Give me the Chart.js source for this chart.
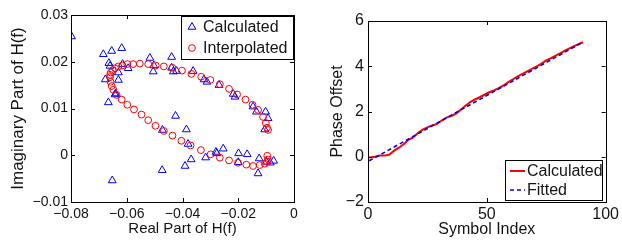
<!DOCTYPE html>
<html>
<head>
<meta charset="utf-8">
<script src="https://cdn.jsdelivr.net/npm/chart.js@4.4.0/dist/chart.umd.min.js"></script>
<style>
    html, body { margin: 0; padding: 0; background: #fff; }
    #wrap { position: relative; width: 622px; height: 241px; overflow: hidden; }
    .panel { position: absolute; top: 0; }
    #left { left: 0; }
    #right { left: 310px; }
</style>
</head>
<body>
<div id="wrap">
    <div class="panel" id="left"><canvas id="hChart" width="310" height="241"></canvas></div>
    <div class="panel" id="right"><canvas id="phaseChart" width="312" height="241"></canvas></div>
</div>
<script>
// ---- DATA: channel response H(f) ----
const calcRe = [-0.0798, -0.0684, -0.0654, -0.0618, -0.0664, -0.0660, -0.0677, -0.0630, -0.0630, -0.0640,
    -0.0642, -0.0666, -0.0652, -0.0615, -0.0595, -0.0517, -0.0503, -0.0505, -0.0439, -0.0439,
    -0.0433, -0.0421, -0.0362, -0.0323, -0.0312, -0.0269, -0.0218, -0.0212, -0.0147, -0.0135,
    -0.0102, -0.0093, -0.0105, -0.0425, -0.0472, -0.0386, -0.0380, -0.0369, -0.0391, -0.0473,
    -0.0317, -0.0280, -0.0254, -0.0199, -0.0168, -0.0125, -0.0129, -0.0099, -0.0085, -0.0073,
    -0.0200, -0.0277];
const calcIm = [0.0254, 0.0216, 0.0223, 0.0229, 0.0197, 0.0191, 0.0162, 0.0161, 0.0177, 0.0132,
    0.0130, 0.0113, -0.0054, 0.0195, 0.0186, 0.0208, 0.0192, 0.0179, 0.0210, 0.0187,
    0.0179, 0.0180, 0.0180, 0.0162, 0.0157, 0.0150, 0.0131, 0.0125, 0.0104, 0.0093,
    0.0093, 0.0079, 0.0055, 0.0084, 0.0054, 0.0055, 0.0024, -0.0009, -0.0023, -0.0032,
    -0.0005, 0.0007, 0.0014, 0.0004, 0.0002, -0.0007, -0.0039, -0.0014, -0.0016, -0.0012,
    -0.0015, 0.0004];

const interpRe = [-0.0660, -0.0657, -0.0651, -0.0642, -0.0630, -0.0616, -0.0598, -0.0577, -0.0553, -0.0523,
    -0.0496, -0.0467, -0.0436, -0.0402, -0.0368, -0.0333, -0.0300, -0.0266, -0.0233, -0.0204,
    -0.0174, -0.0149, -0.0129, -0.0111, -0.0101, -0.0097, -0.0093,
    -0.0660, -0.0658, -0.0654, -0.0648, -0.0636, -0.0618, -0.0598, -0.0574, -0.0547, -0.0523,
    -0.0497, -0.0467, -0.0436, -0.0404, -0.0371, -0.0334, -0.0299, -0.0266, -0.0233, -0.0201,
    -0.0171, -0.0147, -0.0123, -0.0105, -0.0097, -0.0093, -0.0096];
const interpIm = [0.0172, 0.0177, 0.0182, 0.0186, 0.0190, 0.0192, 0.0195, 0.0195, 0.0196, 0.0195,
    0.0192, 0.0190, 0.0187, 0.0181, 0.0174, 0.0168, 0.0161, 0.0152, 0.0142, 0.0130,
    0.0119, 0.0108, 0.0097, 0.0082, 0.0069, 0.0059, 0.0054,
    0.0167, 0.0157, 0.0148, 0.0140, 0.0129, 0.0119, 0.0108, 0.0098, 0.0087, 0.0075,
    0.0063, 0.0052, 0.0042, 0.0031, 0.0021, 0.0011, 0.0002, -0.0005, -0.0011, -0.0016,
    -0.0020, -0.0023, -0.0021, -0.0018, -0.0014, -0.0009, -0.0001];

// ---- DATA: phase offset ----
const symbolIdx = [0.5, 3, 5, 7, 9, 11, 13, 15, 17, 19, 21, 23, 25, 27, 29, 31, 33, 35, 37, 39,
    41, 43, 45, 47, 49, 51, 53, 55, 57, 59, 61, 63, 65, 67, 69, 71, 73, 75, 77, 79,
    81, 83, 85, 87, 89, 90.5];
const phaseCalc = [-0.03, 0.0, 0.05, 0.05, 0.10, 0.27, 0.40, 0.55, 0.75, 0.85, 1.05, 1.20, 1.30, 1.38, 1.45,
    1.60, 1.73, 1.80, 1.90, 2.08, 2.25, 2.42, 2.53, 2.63, 2.74, 2.85, 2.93, 3.03, 3.15, 3.30,
    3.42, 3.55, 3.66, 3.77, 3.88, 4.00, 4.12, 4.26, 4.36, 4.47, 4.58, 4.70, 4.80, 4.90, 5.00, 5.06];
const fitIdx = [0.5, 90.5];
const phaseFit = [-0.18, 5.07];

const FONT = "'Liberation Sans', Arial, Helvetica, sans-serif";
const TEXT = '#141414';

const toPoints = (xs, ys) => xs.map((x, i) => ({ x: x, y: ys[i] }));

function fmt(decimals) {
    return function (value) {
        if (Math.abs(value) < 1e-9) return '0';
        return value.toFixed(decimals).replace('-', '\u2212');
    };
}

// box round the axes with inward tick marks on all four sides
const framePlugin = {
    id: 'frame',
    afterDatasetsDraw(chart) {
        const { ctx, chartArea: a, scales } = chart;
        const len = 4;
        ctx.save();
        ctx.strokeStyle = '#000';
        ctx.lineWidth = 1;
        ctx.beginPath();
        scales.x.ticks.forEach(t => {
            const px = Math.round(scales.x.getPixelForValue(t.value)) + 0.5;
            ctx.moveTo(px, a.bottom); ctx.lineTo(px, a.bottom - len);
            ctx.moveTo(px, a.top); ctx.lineTo(px, a.top + len);
        });
        scales.y.ticks.forEach(t => {
            const py = Math.round(scales.y.getPixelForValue(t.value)) + 0.5;
            ctx.moveTo(a.left, py); ctx.lineTo(a.left + len, py);
            ctx.moveTo(a.right, py); ctx.lineTo(a.right - len, py);
        });
        ctx.stroke();
        ctx.strokeRect(Math.round(a.left) + 0.5, Math.round(a.top) + 0.5,
            Math.round(a.width), Math.round(a.height));
        ctx.restore();
    }
};

// MATLAB-style legend box drawn inside the axes
const boxLegend = {
    id: 'boxLegend',
    afterDraw(chart, args, opts) {
        const { ctx, chartArea: a } = chart;
        const x0 = Math.round(a.right - opts.right - opts.width);
        const y0 = Math.round(opts.top != null ? a.top + opts.top : a.bottom - opts.bottom - opts.height);
        ctx.save();
        ctx.fillStyle = '#fff';
        ctx.fillRect(x0, y0, opts.width, opts.height);
        ctx.strokeStyle = '#000';
        ctx.lineWidth = 1;
        ctx.strokeRect(x0 + 0.5, y0 + 0.5, opts.width, opts.height);
        chart.data.datasets.forEach((ds, i) => {
            const cy = y0 + opts.rowTop + i * opts.rowGap;
            const sx = x0 + opts.symbolX;
            ctx.save();
            ctx.strokeStyle = ds.borderColor;
            ctx.lineWidth = ds.borderWidth;
            if (ds.showLine) {
                ctx.setLineDash(ds.borderDash || []);
                ctx.beginPath();
                ctx.moveTo(sx, cy);
                ctx.lineTo(sx + opts.lineLen, cy);
                ctx.stroke();
            } else {
                ctx.fillStyle = 'rgba(0,0,0,0)';
                Chart.helpers.drawPoint(ctx, {
                    pointStyle: ds.pointStyle, radius: ds.pointRadius,
                    rotation: 0, borderWidth: ds.borderWidth
                }, sx, cy);
            }
            ctx.restore();
            ctx.font = opts.font;
            ctx.fillStyle = TEXT;
            ctx.textBaseline = 'middle';
            ctx.textAlign = 'left';
            ctx.fillText(ds.label, x0 + opts.textX, cy + 1);
        });
        ctx.restore();
    }
};

function axis(min, max, step, decimals, title, tickSize, titleSize, titlePad, tickPad, extra) {
    return Object.assign({
        type: 'linear',
        min: min,
        max: max,
        grid: { display: false, drawTicks: false },
        border: { display: false },
        ticks: {
            stepSize: step,
            color: TEXT,
            padding: tickPad,
            font: { family: FONT, size: tickSize },
            callback: fmt(decimals)
        },
        title: {
            display: true,
            text: title,
            color: TEXT,
            padding: titlePad,
            font: { family: FONT, size: titleSize }
        }
    }, extra);
}

// ---- LEFT: real vs imaginary part ----
new Chart(document.getElementById('hChart'), {
    type: 'scatter',
    data: {
        datasets: [{
            label: 'Calculated',
            data: toPoints(calcRe, calcIm),
            showLine: false,
            pointStyle: 'triangle',
            pointRadius: 4.5,
            borderWidth: 1,
            borderColor: '#0000ff',
            backgroundColor: 'rgba(0,0,0,0)',
            order: 1
        }, {
            label: 'Interpolated',
            data: toPoints(interpRe, interpIm),
            showLine: false,
            pointStyle: 'circle',
            pointRadius: 3.4,
            borderWidth: 1,
            borderColor: '#ff0000',
            backgroundColor: 'rgba(0,0,0,0)',
            order: 0
        }]
    },
    options: {
        responsive: false,
        animation: false,
        events: [],
        layout: { padding: { top: 15, right: 16, left: 0, bottom: 0 } },
        plugins: {
            legend: { display: false },
            tooltip: { enabled: false },
            boxLegend: {
                right: 1, top: 1, width: 112, height: 43,
                rowTop: 11, rowGap: 21, symbolX: 11, textX: 22, lineLen: 15,
                font: '16px ' + FONT
            }
        },
        scales: {
            x: axis(-0.08, 0, 0.02, 2, 'Real Part of H(f)', 14, 15, { top: 0, bottom: 3 }, 4,
                { afterFit: s => { s.height = 39; } }),
            y: axis(-0.01, 0.03, 0.01, 2, 'Imaginary Part of H(f)', 14, 17, { top: 8, bottom: 0 }, 3,
                { afterFit: s => { s.width = 71; } })
        }
    },
    plugins: [framePlugin, boxLegend]
});

// ---- RIGHT: phase offset vs symbol index ----
new Chart(document.getElementById('phaseChart'), {
    type: 'scatter',
    data: {
        datasets: [{
            label: 'Calculated',
            data: toPoints(symbolIdx, phaseCalc),
            showLine: true,
            pointRadius: 0,
            borderWidth: 2,
            borderColor: '#ff0000',
            backgroundColor: '#ff0000',
            order: 1
        }, {
            label: 'Fitted',
            data: toPoints(fitIdx, phaseFit),
            showLine: true,
            pointRadius: 0,
            borderWidth: 1.6,
            borderDash: [4, 3],
            borderColor: '#0000ff',
            backgroundColor: '#0000ff',
            order: 0
        }]
    },
    options: {
        responsive: false,
        animation: false,
        events: [],
        layout: { padding: { top: 21, right: 16, left: 0, bottom: 0 } },
        plugins: {
            legend: { display: false },
            tooltip: { enabled: false },
            boxLegend: {
                right: 4, bottom: 2, width: 97, height: 40,
                rowTop: 11, rowGap: 19, symbolX: 5, textX: 22, lineLen: 15,
                font: '16px ' + FONT
            }
        },
        scales: {
            x: axis(0, 100, 50, 0, 'Symbol Index', 16, 16, { top: 0, bottom: 2 }, 3,
                { afterFit: s => { s.height = 39; } }),
            y: axis(-2, 6, 2, 0, 'Phase Offset', 16, 16, { top: 18, bottom: 0 }, 4,
                { afterFit: s => { s.width = 58; } })
        }
    },
    plugins: [framePlugin, boxLegend]
});
</script>
</body>
</html>
